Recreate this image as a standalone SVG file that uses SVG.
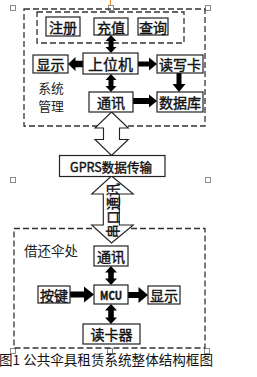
<svg xmlns="http://www.w3.org/2000/svg" width="257" height="377" viewBox="0 0 257 377">
<style>
.dash{fill:none;stroke:#333;stroke-width:1.3;stroke-dasharray:6 3}
.box{fill:#fff;stroke:#222;stroke-width:1.2}
.lbl{font-family:"Noto Sans CJK SC","Noto Sans",sans-serif;font-size:14px;font-weight:normal;fill:#111;stroke:#111;stroke-width:0.4;text-anchor:middle;dominant-baseline:central}
.plain{font-family:"Noto Sans CJK SC","Noto Sans",sans-serif;font-size:13.5px;fill:#222;text-anchor:middle;dominant-baseline:central}
.solid{fill:#000;stroke:none}
.hollow{fill:#fff;stroke:#222;stroke-width:1.1}
.handle{fill:#fff;stroke:#8a8a8a;stroke-width:1}
</style>
<rect width="257" height="377" fill="#fff"/>
<g id="handles">
<line x1="110.5" y1="0" x2="110.5" y2="5" stroke="#e8842c" stroke-width="1"/>
<rect class="handle" x="10.5" y="5.5" width="5" height="5"/>
<rect class="handle" x="108.5" y="5.5" width="5" height="5"/>
<rect class="handle" x="205.5" y="5.5" width="5" height="5"/>
<rect class="handle" x="10.5" y="177.5" width="5" height="5"/>
<rect class="handle" x="205.5" y="177.5" width="5" height="5"/>
<rect class="handle" x="10.5" y="348.5" width="5" height="5"/>
<rect class="handle" x="107.5" y="348.5" width="5" height="5"/>
<rect class="handle" x="204.5" y="348.5" width="5" height="5"/>
</g>
<g id="system-mgmt">
<rect class="dash" x="24" y="9" width="181" height="117"/>
<text class="plain" x="51" y="87.3" style="font-size:12.8px">系统</text>
<text class="plain" x="51" y="105.5" style="font-size:12.8px">管理</text>
</g>
<g id="top-panel"><rect class="dash" x="37" y="12" width="147" height="31"/></g>
<g id="borrow-return">
<rect class="dash" x="14" y="228.5" width="191" height="119.5"/>
<text class="plain" x="51" y="250">借还伞处</text>
</g>
<g id="connectors">
<path class="solid" d="M111,35 L116.5,41 H113.5 V47 H116.5 L111,53 L105.5,47 H108.5 V41 H105.5 Z"/>
<path class="solid" d="M68,64 L75.5,57 V60.8 H83 V67.2 H75.5 V71 Z"/>
<path class="solid" d="M138,61.5 H149 V57.5 L157,64 L149,70.5 V66.5 H138 Z"/>
<path class="solid" d="M111,74 L116.5,80 H113.5 V86 H116.5 L111,92 L105.5,86 H108.5 V80 H105.5 Z"/>
<path class="solid" d="M176.5,73 H181.5 V84 H185.5 L179,92 L172.5,84 H176.5 Z"/>
<path class="solid" d="M133,98 H149 V94.5 L157,101 L149,107.5 V104 H133 Z"/>
<path class="solid" d="M111,266 L117,272.5 H113.8 V278.5 H117 L111,285 L105,278.5 H108.2 V272.5 H105 Z"/>
<path class="solid" d="M70,291.5 H84 V286.5 L94,294.5 L84,302.5 V297.5 H70 Z"/>
<path class="solid" d="M128,292 H138.5 V287 L148,295 L138.5,303 V298 H128 Z"/>
<path class="solid" d="M111,304 L117,310.5 H113.8 V317.5 H117 L111,324 L105,317.5 H108.2 V310.5 H105 Z"/>
<path class="hollow" d="M111.5,112 L128.3,128 H119.5 V139.5 H128.3 L111.5,155.5 L95,139.5 H103.5 V128 H95 Z"/>
<path class="hollow" d="M111.5,176 L133.3,194 H119.3 V225 H133.3 L111.5,243 L91.7,225 H103.3 V194 H91.7 Z"/>
<text class="lbl" transform="translate(111.5,210.5) rotate(-90)" x="0" y="0" style="font-size:13.5px" textLength="55" lengthAdjust="spacingAndGlyphs">串口通讯</text>
</g>
<g id="n-zhuce"><rect class="box" x="46" y="17" width="34" height="19"/><text class="lbl" x="63" y="26.5">注册</text></g>
<g id="n-chongzhi"><rect class="box" x="94" y="18" width="34" height="17"/><text class="lbl" x="111" y="26.5">充值</text></g>
<g id="n-chaxun"><rect class="box" x="138" y="18" width="30" height="17"/><text class="lbl" x="153" y="26.5">查询</text></g>
<g id="n-xianshi1"><rect class="box" x="33" y="55" width="35" height="18"/><text class="lbl" x="50.5" y="64">显示</text></g>
<g id="n-shangweiji"><rect class="box" x="83" y="53" width="55" height="21"/><text class="lbl" x="110.5" y="63.5" style="font-size:15px">上位机</text></g>
<g id="n-duxieka"><rect class="box" x="157" y="55" width="46" height="18"/><text class="lbl" x="180" y="64">读写卡</text></g>
<g id="n-tongxun1"><rect class="box" x="89" y="92" width="44" height="20"/><text class="lbl" x="111" y="102">通讯</text></g>
<g id="n-shujuku"><rect class="box" x="157" y="92" width="46" height="20"/><text class="lbl" x="180" y="102">数据库</text></g>
<g id="n-gprs"><rect class="box" x="59.5" y="155.5" width="105.5" height="21"/><text class="lbl" x="111" y="166" style="font-size:13px" textLength="82" lengthAdjust="spacingAndGlyphs">GPRS数据传输</text></g>
<g id="n-tongxun2"><rect class="box" x="94" y="246" width="34" height="20"/><text class="lbl" x="111" y="256">通讯</text></g>
<g id="n-anjian"><rect class="box" x="38" y="286" width="32" height="17"/><text class="lbl" x="54" y="294.5">按键</text></g>
<g id="n-mcu"><rect class="box" x="94" y="285" width="34" height="19"/><text class="lbl" x="111" y="294.5" style="font-size:12px;font-weight:bold" textLength="22" lengthAdjust="spacingAndGlyphs">MCU</text></g>
<g id="n-xianshi2"><rect class="box" x="148" y="286" width="32" height="18"/><text class="lbl" x="164" y="295">显示</text></g>
<g id="n-dukaqi"><rect class="box" x="83" y="324" width="57" height="20"/><text class="lbl" x="111.5" y="334">读卡器</text></g>
<text x="-1" y="365" style="font-family:'Noto Sans CJK SC','Noto Sans',sans-serif;font-size:13.5px;fill:#111" textLength="214" lengthAdjust="spacingAndGlyphs">图1 公共伞具租赁系统整体结构框图</text>
</svg>
